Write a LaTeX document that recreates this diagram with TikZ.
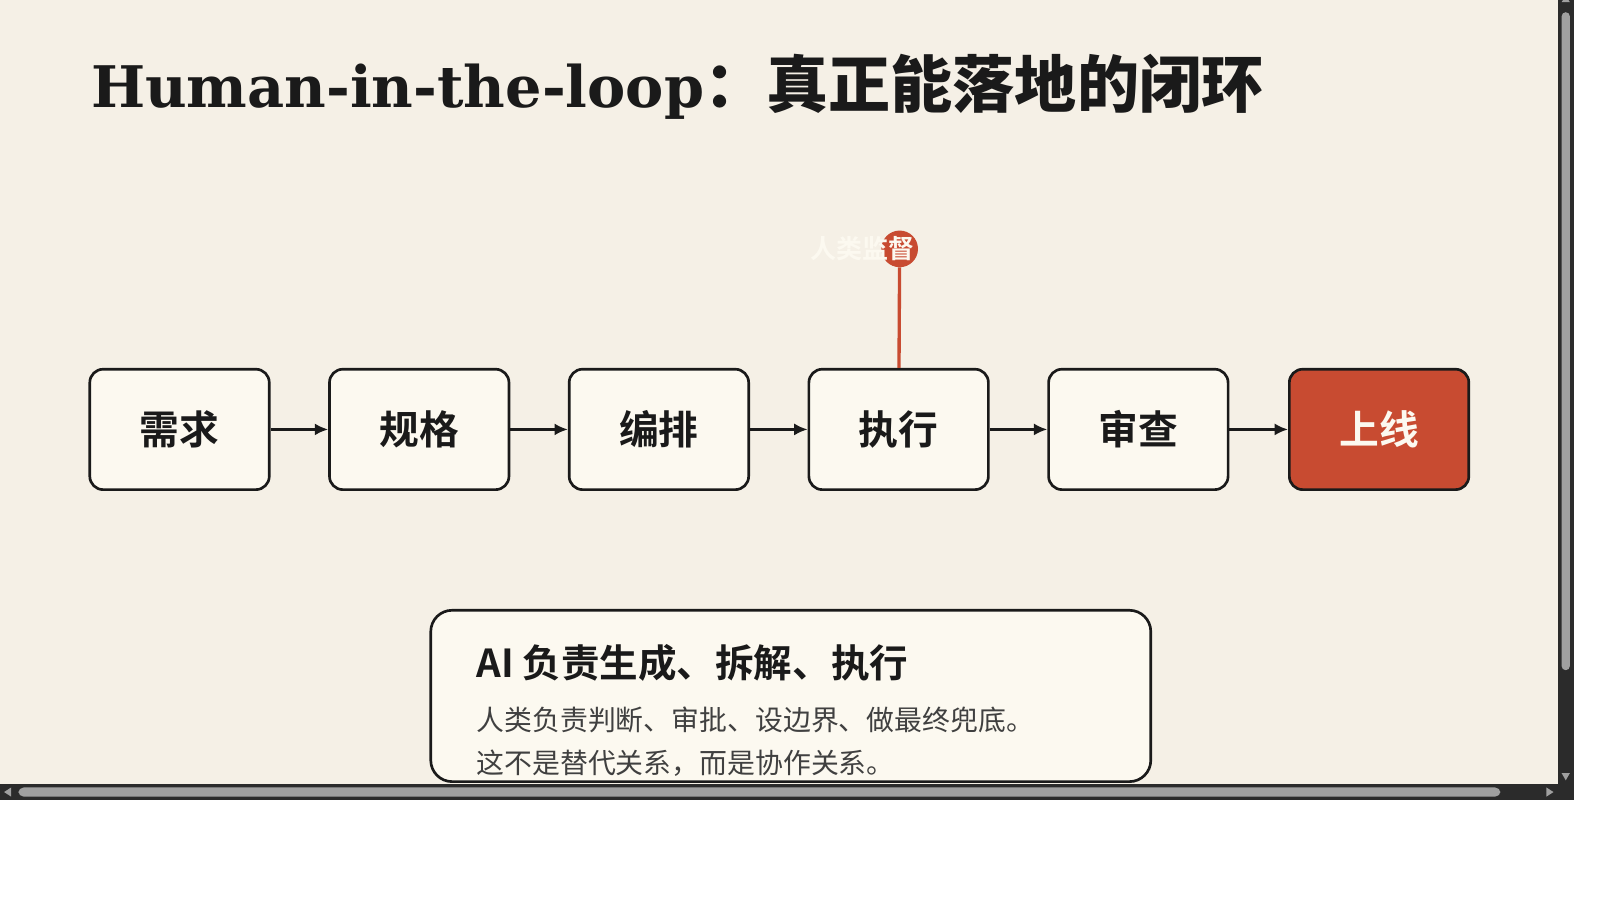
\documentclass[tikz,border=0pt]{standalone}
\usepackage{fontspec}
\setmainfont{DejaVu Serif}
\newfontfamily\cjk{Noto Sans CJK SC}
\newfontfamily\cjkb{Noto Sans CJK SC Bold}
\usetikzlibrary{arrows.meta}
\definecolor{bg}{HTML}{F5F0E6}
\definecolor{boxf}{HTML}{FCF9F0}
\definecolor{ink}{HTML}{1A1A1A}
\definecolor{rust}{HTML}{C84B31}
\definecolor{sb}{HTML}{2B2B2B}
\definecolor{thumb}{HTML}{A0A0A0}
\begin{document}
\begin{tikzpicture}[x=0.765pt,y=-0.765pt,
  stepbox/.style={draw=ink,line width=2pt,rounded corners=10pt,fill=boxf,minimum width=134.6pt,minimum height=90.3pt,font=\cjkb\fontsize{29.8}{29.8}\selectfont,text=ink},
  flow/.style={draw=ink,line width=1.8pt,-{Latex[length=10pt,width=9pt]}}]
\useasboundingbox (0,0) rectangle (1568.6,882.4);
\fill[white] (0,0) rectangle (1568.6,882.4);
\fill[bg] (0,0) rectangle (1527,769);
\node[anchor=base west,inner sep=0,text=ink] (title) at (89,105) {\fontsize{43}{43}\selectfont\bfseries Human-in-the-loop\cjkb\fontsize{46.6}{46.6}\selectfont ：真正能落地的闭环};
\foreach \n/\t/\x in {a/需求/176,b/规格/411,c/编排/646,d/执行/881,e/审查/1116}
  \node[stepbox] (\n) at (\x,421) {\t};
\node[stepbox,fill=rust,text=boxf] (f) at (1352,421) {上线};
\foreach \p/\q in {a/b,b/c,c/d,d/e,e/f} \draw[flow] (\p) -- (\q);
\node[circle,fill=rust,minimum size=27.5pt,inner sep=0] (dot) at (882,244) {};
\draw[rust,line width=2.5pt] (dot) -- (d);
\node[text=boxf,font=\cjkb\fontsize{19.5}{19.5}\selectfont] (lab) at (846,244) {人类监督};
\begin{scope}
\clip (0,0) rectangle (1527,769);
\node[draw=ink,line width=2pt,rounded corners=16pt,fill=boxf,minimum width=540pt,minimum height=128.5pt,anchor=north west] (note) at (421,597) {};
\end{scope}
\node[anchor=west,inner sep=0,text=ink,font=\cjkb\fontsize{28.9}{28.9}\selectfont] (n1) at (467,650) {AI 负责生成、拆解、执行};
\node[anchor=west,inner sep=0,text=black!75,font=\cjk\fontsize{20.9}{20.9}\selectfont] (n2) at (467,706) {人类负责判断、审批、设边界、做最终兜底。};
\node[anchor=west,inner sep=0,text=black!75,font=\cjk\fontsize{20.9}{20.9}\selectfont] (n3) at (467,748) {这不是替代关系，而是协作关系。};
\fill[sb] (1527,0) rectangle (1543,784);
\fill[sb] (0,769) rectangle (1543,784);
\fill[thumb,rounded corners=3pt] (1531,12) rectangle (1539,657);
\fill[thumb,rounded corners=4pt] (18,772) rectangle (1471,781);
\fill[thumb] (1531,2)--(1539,2)--(1535,-4) -- cycle;
\fill[thumb] (1531,758)--(1539,758)--(1535,765)--cycle;
\fill[thumb] (11,772)--(11,781)--(4,776.5)--cycle;
\fill[thumb] (1516,772)--(1516,781)--(1523,776.5)--cycle;
\end{tikzpicture}
\end{document}
